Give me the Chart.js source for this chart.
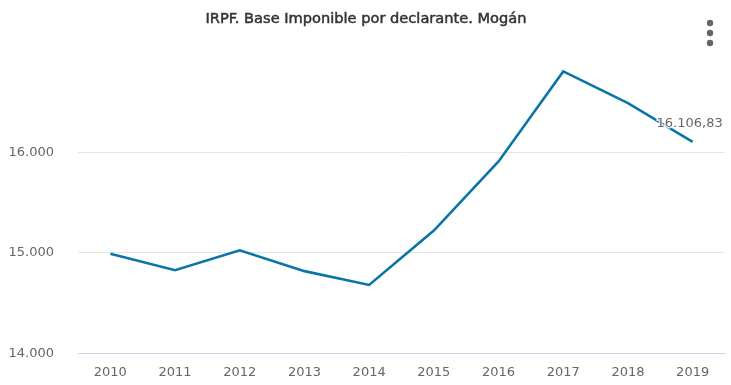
<!DOCTYPE html>
<html>
<head>
<meta charset="utf-8">
<script src="https://cdn.jsdelivr.net/npm/chart.js@4.4.1/dist/chart.umd.min.js"></script>
<style>
  html, body { margin: 0; padding: 0; background: #fff; overflow: hidden; }
  canvas { display: block; }
</style>
</head>
<body>
<canvas id="irpf" width="731" height="385"></canvas>
<script>
const years = ["2010", "2011", "2012", "2013", "2014", "2015", "2016", "2017", "2018", "2019"];
const baseImponible = [14990, 14827, 15025, 14818, 14680, 15222, 15911, 16808, 16493, 16106.83];
const yTicks = [14000, 15000, 16000];
const chartTitle = "IRPF. Base Imponible por declarante. Mogán";

const FONT = "'DejaVu Sans', sans-serif";

function esNumber(v, dec) {
  return v.toLocaleString("es-ES", {
    minimumFractionDigits: dec, maximumFractionDigits: dec, useGrouping: "always"
  });
}

// title, menu dots and the value of the last point
const extras = {
  id: "extras",
  afterDraw(chart) {
    const c = chart.ctx;
    c.save();
    c.fillStyle = "#333333";
    c.strokeStyle = "#333333";
    c.lineWidth = 0.5;
    c.font = "14.6px " + FONT;
    c.textAlign = "center";
    c.textBaseline = "middle";
    c.fillText(chartTitle, 366, 19);
    c.strokeText(chartTitle, 366, 19);

    c.fillStyle = "#666666";
    [23, 33, 43].forEach(y => {
      c.beginPath();
      c.arc(710, y, 3.2, 0, Math.PI * 2);
      c.fill();
    });

    const meta = chart.getDatasetMeta(0);
    const last = meta.data[meta.data.length - 1];
    const val = baseImponible[baseImponible.length - 1];
    c.font = "13px " + FONT;
    c.textAlign = "center";
    c.textBaseline = "middle";
    c.lineWidth = 3;
    c.strokeStyle = "rgba(255,255,255,0.8)";
    c.strokeText(esNumber(val, 2), last.x - 3, last.y - 18);
    c.fillStyle = "#666666";
    c.fillText(esNumber(val, 2), last.x - 3, last.y - 18);
    c.restore();
  }
};

new Chart(document.getElementById("irpf"), {
  type: "line",
  data: {
    labels: years,
    datasets: [{
      data: baseImponible,
      borderColor: "#0b76a6",
      borderWidth: 2.6,
      pointRadius: 0,
      tension: 0,
      fill: false
    }]
  },
  options: {
    responsive: false,
    animation: false,
    layout: { padding: { top: 60, right: 6, left: 0, bottom: 0 } },
    plugins: {
      legend: { display: false },
      title: { display: false },
      tooltip: { enabled: false }
    },
    scales: {
      x: {
        offset: true,
        grid: { display: false, drawTicks: false },
        border: { display: true, color: "#ccd6eb", width: 1 },
        ticks: { color: "#666666", font: { family: FONT, size: 13 }, padding: 12, maxRotation: 0 },
        afterFit(s) { s.height = 27; }
      },
      y: {
        min: 14000,
        max: 16922,
        grid: { color: "#e6e6e6", drawTicks: false, lineWidth: 1 },
        border: { display: false },
        afterBuildTicks(s) { s.ticks = yTicks.map(v => ({ value: v })); },
        ticks: {
          color: "#666666",
          font: { family: FONT, size: 13 },
          padding: 24,
          callback: v => esNumber(v, 0)
        },
        afterFit(s) { s.width = 78; }
      }
    }
  },
  plugins: [extras]
});
</script>
</body>
</html>
